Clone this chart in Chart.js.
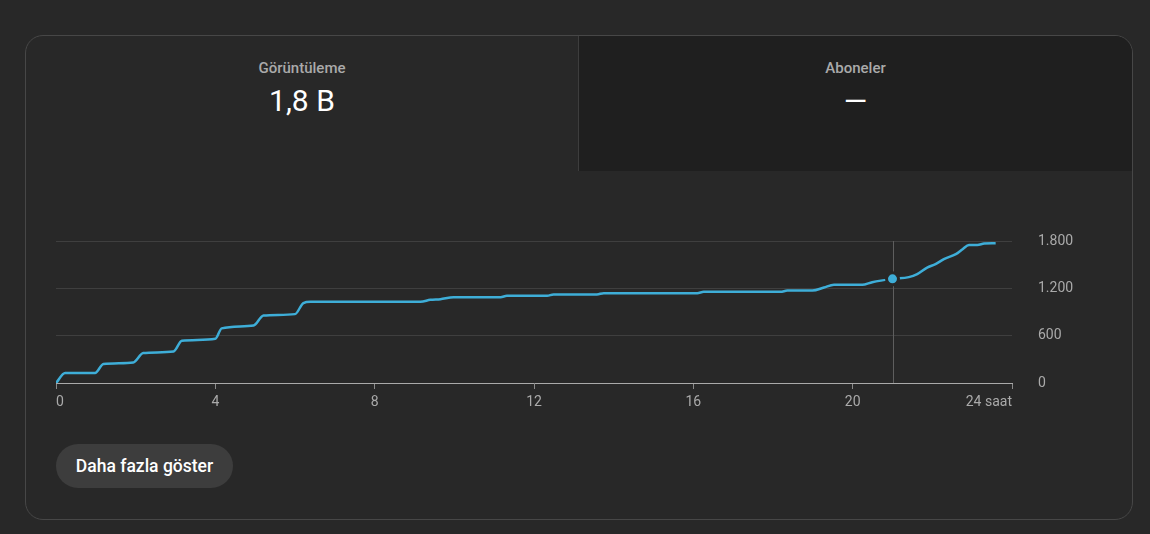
<!DOCTYPE html>
<html lang="tr">
<head>
<meta charset="utf-8">
<title>Görüntüleme</title>
<script src="https://cdn.jsdelivr.net/npm/chart.js@4.4.1/dist/chart.umd.min.js"></script>
<style>
  html, body { margin: 0; padding: 0; }
  body {
    width: 1150px; height: 534px; overflow: hidden;
    background: #282828; font-family: Roboto, "Noto Sans", sans-serif;
    position: relative;
  }
  .card {
    position: absolute; left: 25px; top: 35px; width: 1108px; height: 485px;
    box-sizing: border-box; border: 1px solid #474747; border-radius: 18px;
    overflow: hidden; background: #282828;
  }
  .tab {
    position: absolute; top: 0; height: 135px; text-align: center;
  }
  .tab.left { left: 0; width: 552px; }
  .tab.right {
    left: 552px; right: 0; background: #1f1f1f;
    border-left: 1px solid #3d3d3d;
  }
  .tab .label {
    position: absolute; left: 0; right: 0; top: 25px;
    font-size: 15px; line-height: 15px; font-weight: 500; color: #aaaaaa;
  }
  .tab .value {
    position: absolute; left: 0; right: 0; top: 50px;
    font-size: 30px; line-height: 30px; color: #ffffff;
  }
  .chart-box {
    position: absolute; left: 0; top: 200px; width: 1150px; height: 240px;
  }
  .more {
    position: absolute; left: 56px; top: 444px; width: 177px; height: 44px;
    border-radius: 22px; background: #3d3d3d; color: #fff;
    font-size: 17.5px; font-weight: 500; line-height: 44px; text-align: center;
  }
</style>
</head>
<body>
<div class="card">
  <div class="tab left">
    <div class="label">Görüntüleme</div>
    <div class="value">1,8 B</div>
  </div>
  <div class="tab right">
    <div class="label">Aboneler</div>
    <div class="value">—</div>
  </div>
</div>
<div class="chart-box"><canvas id="viewsChart"></canvas></div>
<div class="more">Daha fazla göster</div>

<script>
// hours since publish, cumulative views
const hours = [0, 0.23, 0.98, 1.19, 1.94, 2.19, 2.95, 3.16, 4.0, 4.16, 4.96, 5.21, 6.0, 6.21, 6.39,
  9.15, 9.40, 9.65, 9.98, 11.16, 11.32, 12.33, 12.49, 13.58, 13.75, 16.1, 16.26, 18.19, 18.36,
  18.99, 19.28, 19.53, 20.24, 20.49, 21.0, 21.41, 21.62, 21.87, 22.08, 22.29, 22.59, 22.76,
  22.92, 23.13, 23.30, 23.59];
const views = [0, 127, 127, 240, 261, 380, 400, 535, 560, 692, 730, 856, 873, 1013, 1029,
  1029, 1054, 1063, 1088, 1088, 1105, 1105, 1122, 1122, 1139, 1139, 1156, 1156, 1172,
  1172, 1210, 1244, 1244, 1278, 1320, 1342, 1380, 1463, 1506, 1570, 1633, 1696,
  1750, 1750, 1767, 1772];
const xTicks = [0, 4, 8, 12, 16, 20, 24];
const xTickLabels = ['0', '4', '8', '12', '16', '20', '24 saat'];
const yTicks = [0, 600, 1200, 1800];
const yTickLabels = ['0', '600', '1.200', '1.800'];
const hoverHour = 21;

const lineColor = '#3eaed8';
const hiIndex = hours.indexOf(hoverHour);

const crosshair = {
  id: 'crosshair',
  beforeDatasetsDraw: function (chart) {
    const area = chart.chartArea;
    const x = Math.round(chart.scales.x.getPixelForValue(hoverHour)) + 0.5;
    const ctx = chart.ctx;
    ctx.save();
    ctx.strokeStyle = '#5e5e5e';
    ctx.lineWidth = 1;
    ctx.beginPath();
    ctx.moveTo(x, area.top);
    ctx.lineTo(x, area.bottom);
    ctx.stroke();
    ctx.restore();
  }
};

const tickFont = { family: 'Roboto', size: 14 };

new Chart(document.getElementById('viewsChart').getContext('2d'), {
  type: 'line',
  data: {
    datasets: [{
      data: hours.map(function (h, i) { return { x: h, y: views[i] }; }),
      borderColor: lineColor,
      borderWidth: 2.5,
      fill: false,
      cubicInterpolationMode: 'monotone',
      pointRadius: function (c) { return c.dataIndex === hiIndex ? 6 : 0; },
      pointHoverRadius: function (c) { return c.dataIndex === hiIndex ? 6 : 0; },
      pointBackgroundColor: lineColor,
      pointBorderColor: '#282828',
      pointBorderWidth: 3
    }]
  },
  options: {
    responsive: true,
    maintainAspectRatio: false,
    animation: false,
    events: [],
    layout: { padding: { left: 56, top: 41, right: 0, bottom: 0 } },
    scales: {
      x: {
        type: 'linear',
        min: 0,
        max: 24,
        afterFit: function (s) { s.height = 57; },
        afterBuildTicks: function (s) { s.ticks = xTicks.map(function (v) { return { value: v }; }); },
        ticks: {
          align: 'inner',
          color: '#aaaaaa',
          font: tickFont,
          padding: 5,
          maxRotation: 0,
          callback: function (v) { return xTickLabels[xTicks.indexOf(v)]; }
        },
        grid: { drawOnChartArea: false, drawTicks: true, tickLength: 6, color: '#8a8a8a' },
        border: { display: true, color: '#aaaaaa', width: 1 }
      },
      y: {
        position: 'right',
        min: 0,
        max: 1800,
        afterFit: function (s) { s.width = 138; },
        afterBuildTicks: function (s) { s.ticks = yTicks.map(function (v) { return { value: v }; }); },
        ticks: {
          color: '#aaaaaa',
          font: tickFont,
          padding: 26,
          callback: function (v) { return yTickLabels[yTicks.indexOf(v)]; }
        },
        grid: {
          drawTicks: false,
          lineWidth: 1,
          color: function (c) { return c.tick && c.tick.value === 0 ? 'rgba(0,0,0,0)' : '#3f3f3f'; }
        },
        border: { display: false }
      }
    },
    plugins: { legend: { display: false }, tooltip: { enabled: false } }
  },
  plugins: [crosshair]
});
</script>
</body>
</html>
